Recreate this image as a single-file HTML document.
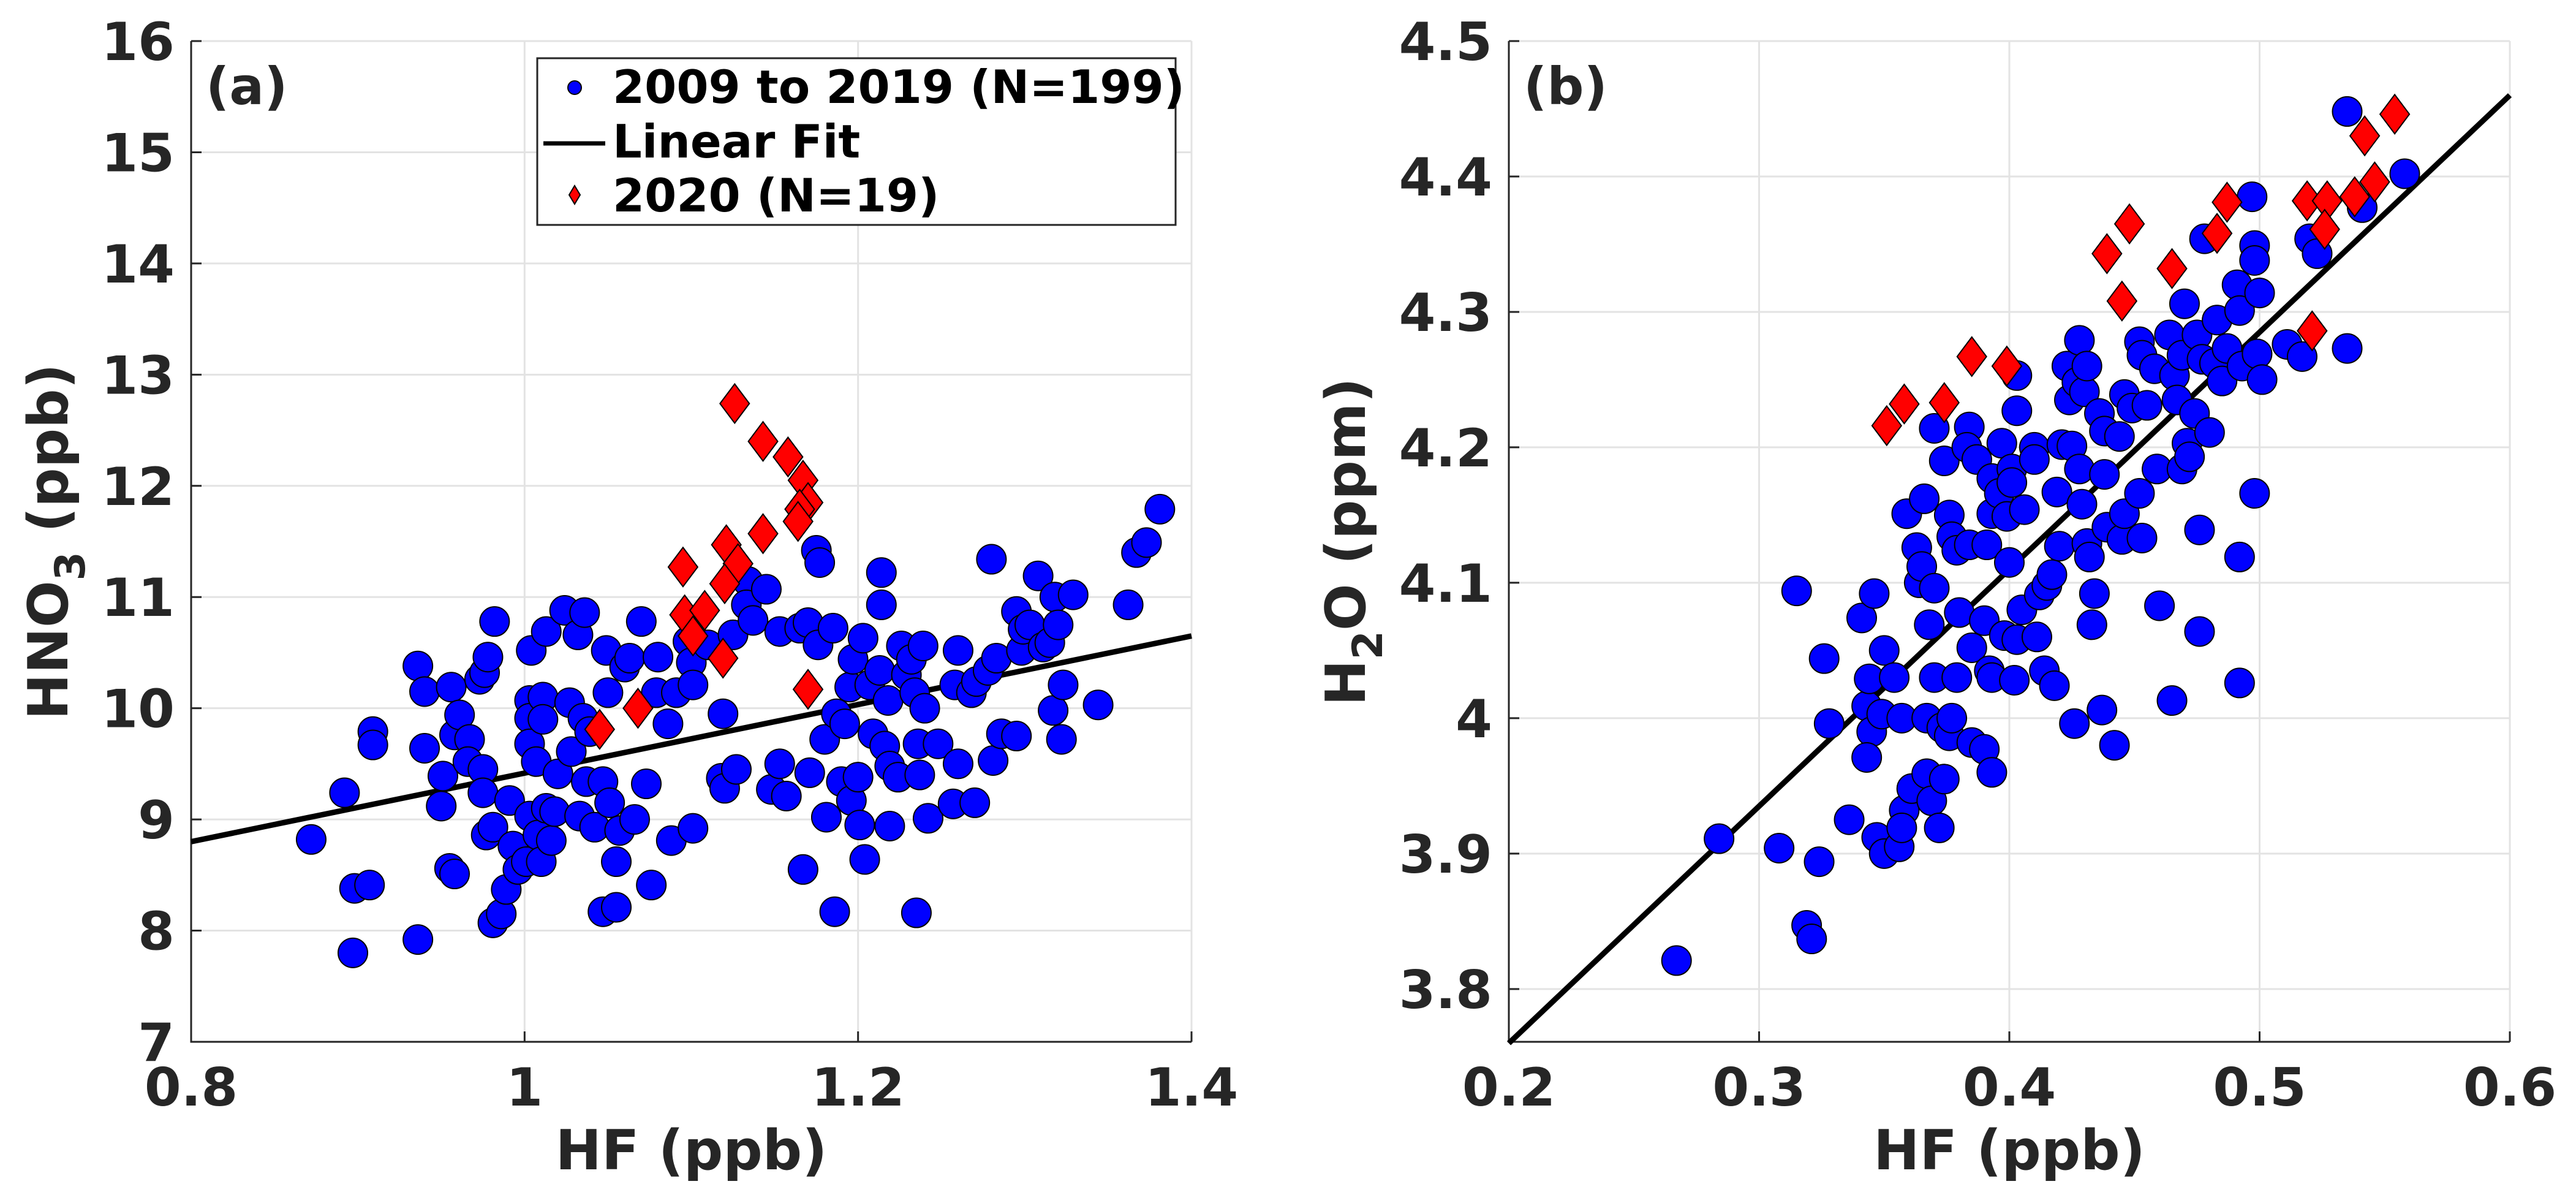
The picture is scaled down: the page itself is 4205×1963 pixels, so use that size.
<!DOCTYPE html>
<html><head><meta charset="utf-8"><style>
html,body{margin:0;padding:0;background:#fff}
svg{display:block}
text{font-family:"DejaVu Sans","Liberation Sans",sans-serif;font-weight:bold;fill:#262626}
</style></head><body>
<svg id="fig" width="4205" height="1963" viewBox="0 0 4205 1963" xmlns="http://www.w3.org/2000/svg">
<rect width="4205" height="1963" fill="#fff"/>
<g id="pa"></g>
<g id="pb"></g>
</svg>
<script>
const blueAx=[0.872,0.892,0.897,0.898,0.907,0.909,0.909,0.936,0.936,0.940,0.940,0.950,0.951,0.955,0.958,0.956,0.958,0.961,0.967,0.966,0.973,0.976,0.978,0.982,0.975,0.975,0.977,0.981,0.981,0.986,0.989,0.991,0.993,0.996,1.001,1.003,1.004,1.003,1.003,1.003,1.007,1.008,1.010,1.011,1.011,1.013,1.013,1.016,1.018,1.020,1.024,1.027,1.028,1.032,1.036,1.033,1.035,1.037,1.039,1.042,1.047,1.049,1.050,1.047,1.051,1.055,1.055,1.057,1.060,1.063,1.066,1.070,1.073,1.076,1.079,1.080,1.086,1.088,1.091,1.098,1.100,1.101,1.101,1.110,1.119,1.118,1.120,1.127,1.125,1.134,1.133,1.137,1.145,1.148,1.153,1.153,1.157,1.165,1.167,1.170,1.171,1.175,1.177,1.176,1.180,1.181,1.185,1.186,1.187,1.190,1.192,1.195,1.196,1.197,1.200,1.201,1.203,1.204,1.207,1.209,1.213,1.214,1.214,1.216,1.218,1.219,1.219,1.224,1.226,1.229,1.232,1.234,1.235,1.236,1.237,1.239,1.240,1.242,1.248,1.257,1.258,1.260,1.260,1.268,1.270,1.271,1.278,1.280,1.281,1.283,1.286,1.295,1.295,1.298,1.299,1.303,1.308,1.311,1.315,1.317,1.318,1.320,1.322,1.323,1.329,1.344,1.362,1.367,1.373,1.381];
const blueAy=[8.82,9.24,7.80,8.38,8.41,9.79,9.67,10.38,7.92,10.15,9.64,9.12,9.39,8.56,8.51,10.19,9.76,9.94,9.72,9.52,10.26,10.32,10.46,10.78,9.45,9.24,8.86,8.93,8.07,8.15,8.37,9.17,8.76,8.55,8.62,9.03,10.52,10.07,9.91,9.68,9.52,8.86,8.62,10.10,9.90,10.69,9.10,8.81,9.07,9.41,10.88,10.05,9.61,10.66,10.86,9.03,9.91,9.34,9.79,8.93,9.34,10.52,10.14,8.17,9.15,8.21,8.62,8.90,10.37,10.45,9.00,10.78,9.32,8.41,10.14,10.46,9.86,8.81,10.14,10.60,10.41,10.21,8.92,10.57,9.95,9.37,9.28,9.45,10.66,11.14,10.93,10.79,11.07,9.27,9.50,10.69,9.21,10.72,8.55,10.77,9.42,11.42,11.31,10.57,9.72,9.02,10.72,8.17,9.95,9.34,9.86,10.19,9.17,10.44,9.38,8.95,10.63,8.64,10.21,9.77,10.34,10.93,11.22,9.66,10.07,9.48,8.94,9.38,10.56,10.30,10.44,10.14,8.16,9.68,9.40,10.56,10.00,9.01,9.68,9.14,10.21,10.52,9.50,10.14,9.15,10.24,10.34,11.34,9.53,10.45,9.77,9.75,10.87,10.52,10.71,10.75,11.19,10.55,10.59,9.98,11.00,10.75,9.72,10.21,11.02,10.03,10.93,11.40,11.49,11.79];
const redAx=[1.126,1.143,1.158,1.167,1.170,1.165,1.164,1.143,1.121,1.128,1.120,1.095,1.096,1.108,1.101,1.119,1.170,1.068,1.045];
const redAy=[12.74,12.40,12.26,12.05,11.85,11.79,11.68,11.57,11.47,11.30,11.12,11.27,10.84,10.88,10.65,10.45,10.17,10.00,9.81];
const fitA=[[0.8,8.80],[1.4,10.65]];
const xTicksA=[0.8,1,1.2,1.4];
const yTicksA=[7,8,9,10,11,12,13,14,15,16];

const blueBx=[0.267,0.284,0.308,0.315,0.319,0.321,0.324,0.326,0.328,0.336,0.341,0.343,0.344,0.345,0.343,0.346,0.347,0.350,0.350,0.349,0.354,0.356,0.357,0.358,0.357,0.359,0.361,0.363,0.364,0.365,0.366,0.367,0.367,0.368,0.369,0.370,0.370,0.370,0.372,0.373,0.374,0.374,0.376,0.376,0.377,0.377,0.379,0.379,0.380,0.384,0.383,0.384,0.385,0.387,0.385,0.390,0.390,0.391,0.392,0.393,0.393,0.393,0.393,0.396,0.397,0.398,0.399,0.400,0.401,0.401,0.403,0.403,0.403,0.402,0.405,0.406,0.410,0.410,0.411,0.412,0.415,0.417,0.414,0.418,0.419,0.420,0.421,0.423,0.424,0.425,0.426,0.427,0.428,0.428,0.429,0.430,0.431,0.431,0.432,0.433,0.434,0.436,0.437,0.438,0.438,0.439,0.442,0.444,0.445,0.446,0.446,0.449,0.452,0.453,0.452,0.453,0.455,0.458,0.459,0.460,0.464,0.465,0.466,0.467,0.469,0.469,0.470,0.471,0.472,0.474,0.475,0.476,0.476,0.477,0.478,0.480,0.482,0.483,0.485,0.487,0.491,0.492,0.492,0.493,0.492,0.497,0.498,0.498,0.498,0.499,0.500,0.501,0.511,0.517,0.520,0.523,0.535,0.535,0.541,0.558];
const blueBy=[3.821,3.911,3.904,4.094,3.847,3.837,3.894,4.044,3.996,3.925,4.074,4.009,4.029,3.990,3.971,4.092,3.912,3.900,4.050,4.003,4.030,3.905,4.000,3.932,3.919,4.151,3.948,4.126,4.100,4.112,4.162,3.959,4.000,4.069,3.939,4.214,4.030,4.096,3.919,3.993,3.955,4.190,3.987,4.150,4.000,4.134,4.030,4.124,4.078,4.215,4.200,4.128,3.982,4.191,4.052,4.072,3.977,4.128,4.035,4.030,3.960,4.177,4.151,4.166,4.203,4.061,4.149,4.115,4.184,4.174,4.253,4.227,4.058,4.028,4.080,4.154,4.200,4.191,4.060,4.091,4.098,4.106,4.035,4.024,4.167,4.127,4.202,4.260,4.235,4.201,3.996,4.248,4.279,4.184,4.158,4.241,4.260,4.129,4.119,4.069,4.092,4.225,4.006,4.180,4.212,4.141,3.980,4.208,4.132,4.151,4.239,4.229,4.278,4.268,4.166,4.133,4.231,4.258,4.184,4.083,4.283,4.013,4.253,4.235,4.184,4.268,4.306,4.203,4.193,4.225,4.283,4.064,4.139,4.265,4.354,4.211,4.262,4.294,4.249,4.273,4.320,4.301,4.119,4.260,4.026,4.385,4.349,4.338,4.166,4.269,4.314,4.250,4.276,4.267,4.354,4.343,4.273,4.448,4.377,4.402];
const redBx=[0.351,0.358,0.374,0.385,0.399,0.439,0.445,0.448,0.465,0.483,0.487,0.519,0.527,0.526,0.521,0.538,0.546,0.542,0.554];
const redBy=[4.216,4.232,4.233,4.267,4.260,4.343,4.308,4.365,4.332,4.358,4.381,4.382,4.382,4.361,4.286,4.385,4.396,4.430,4.446];
const fitB=[[0.2,3.76],[0.6,4.46]];
const xTicksB=[0.2,0.3,0.4,0.5,0.6];
const yTicksB=[3.8,3.9,4.0,4.1,4.2,4.3,4.4,4.5];
const yTickLabelsB=['3.8','3.9','4','4.1','4.2','4.3','4.4','4.5'];

const NS='http://www.w3.org/2000/svg';
function mk(tag,attrs,parent){const e=document.createElementNS(NS,tag);for(const k in attrs)e.setAttribute(k,attrs[k]);parent.appendChild(e);return e;}

function panel(g,o){
  const X=v=>o.x0+(v-o.xmin)/(o.xmax-o.xmin)*(o.x1-o.x0);
  const Y=v=>o.y1-(v-o.ymin)/(o.ymax-o.ymin)*(o.y1-o.y0);
  o.xt.forEach(v=>{const l=mk('line',{x1:X(v),x2:X(v),y1:o.y0,y2:o.y1,stroke:'#e3e3e3','stroke-width':3},g);
    
    });
  o.yt.forEach(v=>{const l=mk('line',{x1:o.x0,x2:o.x1,y1:Y(v),y2:Y(v),stroke:'#e3e3e3','stroke-width':3},g);
    
    });
  const ax=mk('path',{d:`M${o.x0},${o.y0}V${o.y1}H${o.x1}`,fill:'none',stroke:'#262626','stroke-width':3},g);
  
  
  o.xt.forEach((v,i)=>{
    mk('line',{x1:X(v),x2:X(v),y1:o.y1,y2:o.y1-17,stroke:'#262626','stroke-width':3},g);
    const t=mk('text',{x:X(v),y:1804,'font-size':86,'text-anchor':'middle'},g);t.textContent=o.xl?o.xl[i]:String(v);
    
    
  });
  o.yt.forEach((v,i)=>{
    mk('line',{x1:o.x0,x2:o.x0+17,y1:Y(v),y2:Y(v),stroke:'#262626','stroke-width':3},g);
    const t=mk('text',{x:o.x0-27,y:Y(v)+31,'font-size':86,'text-anchor':'end'},g);t.textContent=o.yl?o.yl[i]:String(v);
    
    
  });
  const fl=mk('line',{x1:X(o.fit[0][0]),y1:Y(o.fit[0][1]),x2:X(o.fit[1][0]),y2:Y(o.fit[1][1]),stroke:'#000','stroke-width':9},g);
  
  
  o.bx.forEach((v,i)=>{const c=mk('circle',{cx:X(v),cy:Y(o.by[i]),r:24,fill:'#0000ff',stroke:'#000','stroke-width':2},g);
    
    });
  o.rx.forEach((v,i)=>{const cx=X(v),cy=Y(o.ry[i]);
    const p=mk('path',{d:`M${cx},${cy-32}L${cx+24},${cy}L${cx},${cy+32}L${cx-24},${cy}Z`,fill:'#ff0000',stroke:'#000','stroke-width':2},g);
    
    });
  const tt=mk('text',{x:o.x0+24,y:170,'font-size':84},g);tt.textContent=o.tag;
  
  
  const xl=mk('text',{x:(o.x0+o.x1)/2,y:1908,'font-size':90,'text-anchor':'middle'},g);xl.textContent='HF (ppb)';
  
  
  const yl=mk('text',{x:0,y:0,'font-size':90,'text-anchor':'middle',transform:`translate(${o.ylx},884) rotate(-90)`},g);
  yl.innerHTML=o.ylab;
  
  
}

panel(document.getElementById('pa'),{x0:312,x1:1945,y0:67,y1:1700,xmin:0.8,xmax:1.4,ymin:7,ymax:16,xt:xTicksA,yt:yTicksA,
  bx:blueAx,by:blueAy,rx:redAx,ry:redAy,fit:fitA,tag:'(a)',ylx:110,ylab:'HNO<tspan dy="28" font-size="68">3</tspan><tspan dy="-28"> (ppb)</tspan>'});
panel(document.getElementById('pb'),{x0:2463,x1:4097,y0:67,y1:1700,xmin:0.2,xmax:0.6,ymin:3.761,ymax:4.5,xt:xTicksB,yt:yTicksB,xl:['0.2','0.3','0.4','0.5','0.6'],yl:yTickLabelsB,
  bx:blueBx,by:blueBy,rx:redBx,ry:redBy,fit:fitB,tag:'(b)',ylx:2228,ylab:'H<tspan dy="28" font-size="68">2</tspan><tspan dy="-28">O (ppm)</tspan>'});

const pa=document.getElementById('pa');
const lg=mk('g',{},pa);


mk('rect',{x:877,y:95,width:1042,height:272,fill:'#fff',stroke:'#262626','stroke-width':3},lg);
mk('circle',{cx:938,cy:143,r:11,fill:'#0000ff',stroke:'#000','stroke-width':2},lg);
mk('line',{x1:887,x2:988,y1:234,y2:234,stroke:'#000','stroke-width':7},lg);
mk('path',{d:'M938,303L947,318L938,333L929,318Z',fill:'#ff0000',stroke:'#000','stroke-width':2},lg);
[['2009 to 2019 (N=199)',168],['Linear Fit',257],['2020 (N=19)',345]].forEach(r=>{
  const t=mk('text',{x:1000,y:r[1],'font-size':75,style:'fill:#000'},lg);t.textContent=r[0];
  
  
});
</script>
</body></html>
